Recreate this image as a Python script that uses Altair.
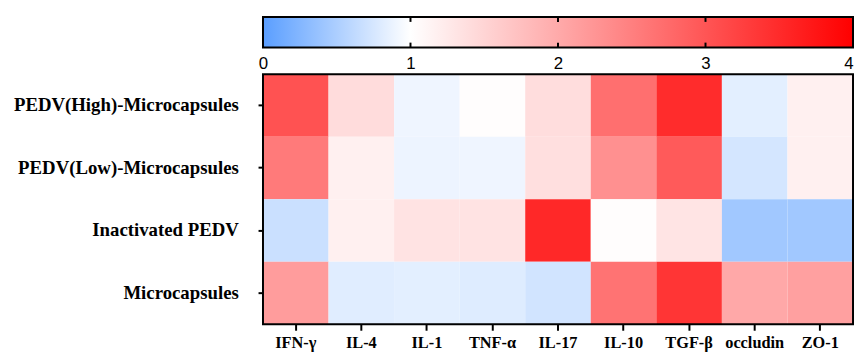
import altair as alt
import pandas as pd

rows = ["PEDV(High)-Microcapsules", "PEDV(Low)-Microcapsules", "Inactivated PEDV", "Microcapsules"]
cols = ["IFN-γ", "IL-4", "IL-1", "TNF-α", "IL-17", "IL-10", "TGF-β", "occludin", "ZO-1"]

high = [3.03, 1.41, 0.90, 1.02, 1.40, 2.70, 3.48, 0.83, 1.18]
low = [2.56, 1.18, 0.89, 0.90, 1.38, 2.31, 2.94, 0.74, 1.18]
inact = [0.68, 1.18, 1.33, 1.33, 3.53, 1.02, 1.32, 0.43, 0.43]
micro = [2.16, 0.81, 0.83, 0.80, 0.72, 2.65, 3.38, 2.02, 2.12]

scale_domain = [0, 1, 4]
scale_colors = ["#5a9eff", "#ffffff", "#ff0000"]
bar_ticks = [0, 1, 2, 3, 4]
inner_ticks = [1, 2, 3]

records = []
for r, vals in zip(rows, [high, low, inact, micro]):
    for c, v in zip(cols, vals):
        records.append({"group": r, "marker": c, "value": v})
df = pd.DataFrame(records)

W = 597
color_scale = alt.Scale(domain=scale_domain, range=scale_colors, interpolate="rgb")

frame_df = pd.DataFrame({"f": [0]})


def frame():
    return alt.Chart(frame_df).mark_rect(filled=False, stroke="black", strokeWidth=2).encode(
        x=alt.value(0), x2=alt.value("width"), y=alt.value(0), y2=alt.value("height"))


heat_rect = alt.Chart(df).mark_rect().encode(
    x=alt.X("marker:N", sort=cols, title=None,
            scale=alt.Scale(paddingInner=0, paddingOuter=0),
            axis=alt.Axis(labelAngle=0, labelFont="Liberation Serif", labelFontWeight="bold",
                          labelFontSize=16.5, labelColor="black", tickColor="black",
                          tickWidth=2, tickSize=6, labelPadding=4, domain=False, labelLimit=0)),
    y=alt.Y("group:N", sort=rows, title=None,
            scale=alt.Scale(paddingInner=0, paddingOuter=0),
            axis=alt.Axis(labelFont="Liberation Serif", labelFontWeight="bold",
                          labelFontSize=19, labelColor="black", tickColor="black",
                          tickWidth=2, tickSize=5, labelPadding=20, domain=False, labelLimit=0)),
    color=alt.Color("value:Q", scale=color_scale, legend=None),
)
heat = alt.layer(heat_rect, frame()).properties(width=W, height=253)

bar_df = pd.DataFrame({"lo": [scale_domain[0]], "hi": [scale_domain[-1]]})
grad = alt.Gradient(
    gradient="linear", x1=0, x2=1, y1=0, y2=0,
    stops=[alt.GradientStop(offset=0, color=scale_colors[0]),
           alt.GradientStop(offset=0.25, color=scale_colors[1]),
           alt.GradientStop(offset=1, color=scale_colors[2])])

bar = alt.Chart(bar_df).mark_rect(fill=grad).encode(
    x=alt.X("lo:Q", scale=alt.Scale(domain=[0, 4], nice=False, zero=False), title=None,
            axis=alt.Axis(values=bar_ticks, ticks=False, domain=False, grid=False,
                          labelFont="Liberation Sans", labelFontSize=17, labelColor="black",
                          labelPadding=8, labelFlush=False, format="d",
                          labelAlign=alt.ExprRef("datum.value == 4 ? 'right' : 'center'"))),
    x2="hi:Q",
)
tick_df = pd.DataFrame({"t": inner_ticks})
tk_top = alt.Chart(tick_df).mark_rule(color="black", strokeWidth=2).encode(
    x="t:Q", y=alt.value(0), y2=alt.value(5))
tk_bot = alt.Chart(tick_df).mark_rule(color="black", strokeWidth=2).encode(
    x="t:Q", y=alt.value(26), y2=alt.value(31))
colorbar = alt.layer(bar, tk_top, tk_bot, frame()).properties(width=W, height=31)

chart = alt.vconcat(colorbar, heat, spacing=2).properties(
    padding={"left": 5, "top": 6, "right": 0, "bottom": 0},
    background="white",
).configure_view(stroke=None)

chart.save("out.html", embed_options={"renderer": "svg", "actions": False})
